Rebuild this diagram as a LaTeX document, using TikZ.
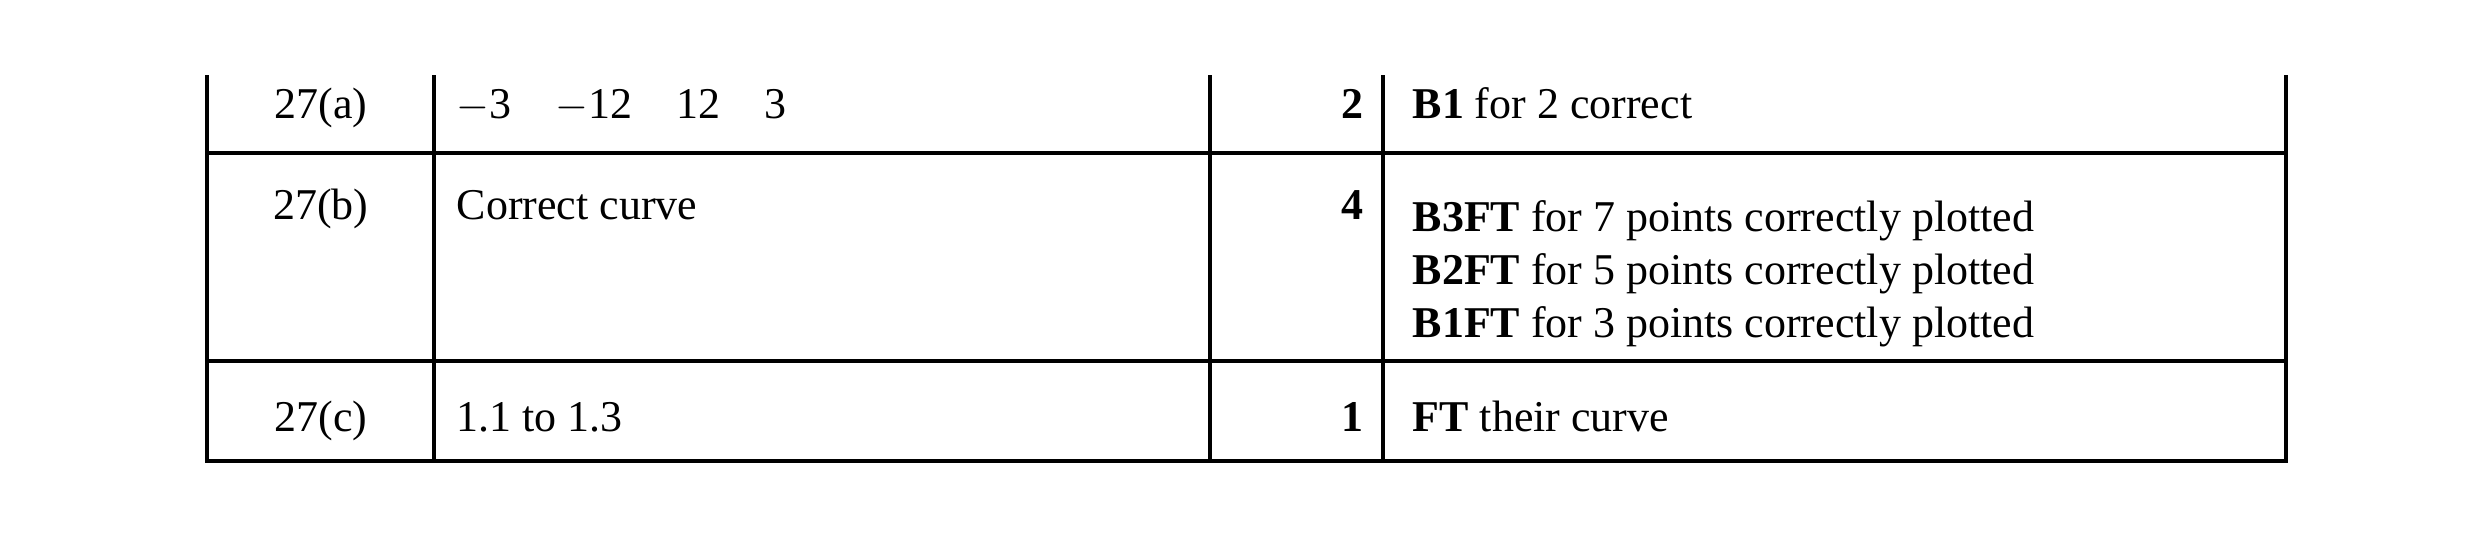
\documentclass[tikz,border=0pt]{standalone}
\usepackage{fontspec}
\setmainfont{Liberation Serif}
\usetikzlibrary{positioning}
\begin{document}
\begin{tikzpicture}
[x=0.01cm, y=-0.01cm, font=\fontsize{12.5}{15}\selectfont,
% STYLES
% The rule style is used for the table lines
rule/.style={line width=0.9pt},
% The qnum style is used for the question numbers
qnum/.style={anchor=base, inner sep=0pt},
% The answer style is used for the answers and comments
answer/.style={anchor=base west, inner sep=0pt, align=left},
% The score style is used for the marks
score/.style={anchor=base east, inner sep=0pt, font=\fontsize{12.5}{15}\selectfont\bfseries}]

\useasboundingbox (0,0) rectangle (2480,536);

% Draw table lines
\draw[rule] (207,75) -- (207,461) -- (2286,461) -- (2286,75);
\draw[rule] (434,75) -- (434,461);
\draw[rule] (1210,75) -- (1210,461);
\draw[rule] (1383,75) -- (1383,461);
\draw[rule] (207,153) -- (2286,153);
\draw[rule] (207,361) -- (2286,361);

% Row a
\node [qnum] (qa) at (321,118) {27(a)};
\node [answer] (ansa) at (456,118) {$-$3\quad $-$12\quad 12\quad 3};
\node [score] (scorea) at (1364,118) {2};
\node [answer] (coma) at (1412,118) {\textbf{B1} for 2 correct};

% Row b
\node [qnum] (qb) at (321,219) {27(b)};
\node [answer] (ansb) at (456,219) {Correct curve};
\node [score] (scoreb) at (1364,219) {4};
\node [answer, anchor=north west] (comb) at (1412,200) {\textbf{B3FT} for 7 points correctly plotted\\
\textbf{B2FT} for 5 points correctly plotted\\
\textbf{B1FT} for 3 points correctly plotted};

% Row c
\node [qnum] (qc) at (321,431) {27(c)};
\node [answer] (ansc) at (456,431) {1.1 to 1.3};
\node [score] (scorec) at (1364,431) {1};
\node [answer] (comc) at (1412,431) {\textbf{FT} their curve};

\end{tikzpicture}
\end{document}
